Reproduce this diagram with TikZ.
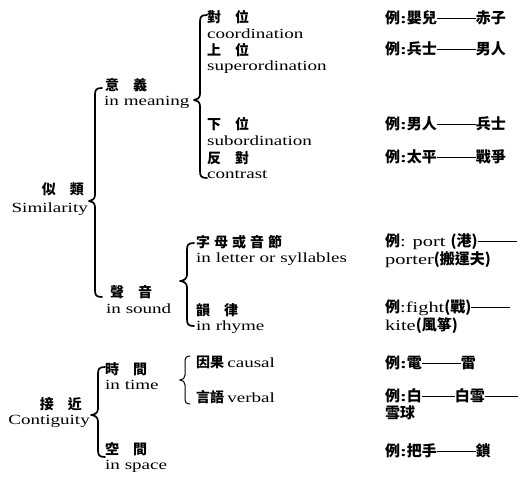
\documentclass[tikz,border=0pt]{standalone}
\usepackage{fontspec}
\newfontfamily\cjk{Noto Sans CJK TC}
\newfontfamily\enf{Liberation Serif}[FakeStretch=1.36]
\newcommand\dd[1][2.6em]{\rule[0.33em]{#1}{1pt}}
\newcommand\mybrace[5]{% x, top, tip, bottom, tipx
  \draw[bracestyle] ({#1+7},#2) .. controls ({#1+1},#2) and (#1,{#2+2}) .. (#1,{#2+7})
    -- (#1,{#3-6}) .. controls (#1,{#3-2}) and ({#5+3},#3) .. (#5,#3)
    .. controls ({#5+3},#3) and (#1,{#3+2}) .. (#1,{#3+6})
    -- (#1,{#4-7}) .. controls (#1,{#4-2}) and ({#1+1},#4) .. ({#1+7},#4);}
\begin{document}
\begin{tikzpicture}[x=1pt,y=-1pt,
  cn/.style={font=\cjk\bfseries\fontsize{14}{16}\selectfont, anchor=west, inner sep=0},
  en/.style={font=\enf\fontsize{14}{16}\selectfont, anchor=west, inner sep=0},
  ex/.style={font=\cjk\bfseries\fontsize{15}{17}\selectfont, anchor=west, inner sep=0},
  bracestyle/.style={line width=1.7pt, line cap=round, line join=round}]
\useasboundingbox (0,0) rectangle (523,477);
% level 0
\node[cn, anchor=east] (sim) at (84,189) {似　類};
\node[en, anchor=east] (simE) at (88,209) {Similarity};
\node[cn, anchor=east] (con) at (82,404) {接　近};
\node[en, anchor=east] (conE) at (90,421) {Contiguity};
% level 1
\node[cn] (mea) at (105,85) {意　義};
\node[en] (meaE) at (104,102) {in meaning};
\node[cn] (snd) at (110,292) {聲　音};
\node[en] (sndE) at (106,309) {in sound};
\node[cn] (tim) at (105,369) {時　間};
\node[en] (timE) at (105,385) {in time};
\node[cn] (spa) at (105,449) {空　間};
\node[en] (spaE) at (105,466) {in space};
% level 2 meaning
\node[cn] (coo) at (207,17) {對　位};
\node[en] (cooE) at (207,34) {coordination};
\node[cn] (sup) at (207,50) {上　位};
\node[en] (supE) at (207,67) {superordination};
\node[cn] (sub) at (207,124) {下　位};
\node[en] (subE) at (207,141) {subordination};
\node[cn] (ctr) at (207,158) {反　對};
\node[en] (ctrE) at (207,175) {contrast};
% level 2 sound
\node[cn] (let) at (196,242) {字\hspace{4pt}母\hspace{4pt}或\hspace{4pt}音\hspace{4pt}節};
\node[en] (letE) at (196,259) {in letter or syllables};
\node[cn] (rhy) at (196,310) {韻　律};
\node[en] (rhyE) at (196,327) {in rhyme};
% level 2 time
\node[cn] (cau) at (196,362) {因果 {\enf\mdseries causal}};
\node[cn] (ver) at (196,397) {言語 {\enf\mdseries verbal}};
% examples
\node[ex] (e1) at (385,18) {例{\enf:}嬰兒\dd 赤子};
\node[ex] (e2) at (385,49) {例{\enf:}兵士\dd 男人};
\node[ex] (e3) at (385,124) {例{\enf:}男人\dd 兵士};
\node[ex] (e4) at (385,157) {例{\enf:}太平\dd 戰爭};
\node[ex] (e5) at (385,242) {例{\enf\mdseries: port }(港)\dd};
\node[ex] (e5b) at (385,260) {{\enf\mdseries porter}(搬運夫)};
\node[ex] (e6) at (385,308) {例{\enf\mdseries:fight}(戰)\dd};
\node[ex] (e6b) at (385,326) {{\enf\mdseries kite}(風箏)};
\node[ex] (e7) at (385,363) {例{\enf:}電\dd 雷};
\node[ex] (e8) at (385,396) {例{\enf:}白\dd[2.2em]白雪\dd[2.2em]};
\node[ex] (e8b) at (385,413) {雪球};
\node[ex] (e9) at (385,451) {例{\enf:}把手\dd 鎖};
% braces
\mybrace{95}{88}{201}{297}{89}
\mybrace{200}{15}{100}{178}{194}
\mybrace{187}{243}{281}{326}{180}
\mybrace{98}{367}{415}{457}{91}
\draw[line width=1pt, line cap=round] (190,356) .. controls (186,356) and (185,358) .. (185,362) -- (185,375) .. controls (185,378) and (183,380) .. (180,380) .. controls (183,380) and (185,382) .. (185,385) -- (185,398) .. controls (185,402) and (186,404) .. (190,404);
\end{tikzpicture}
\end{document}
